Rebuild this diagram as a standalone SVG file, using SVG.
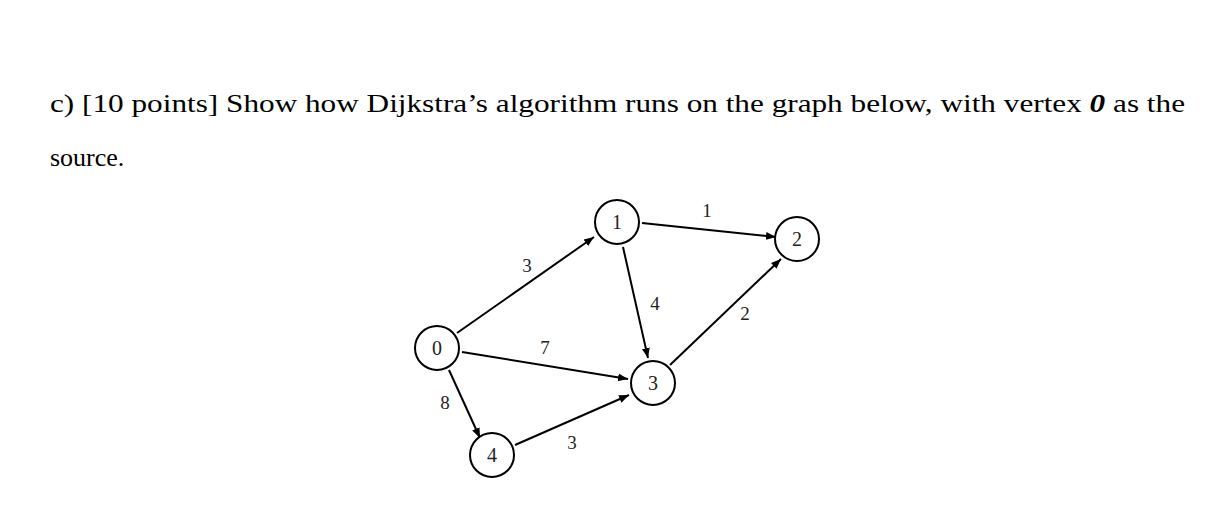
<svg xmlns="http://www.w3.org/2000/svg" width="1216" height="507" viewBox="0 0 1216 507">
<style>
.t{font-family:"Liberation Serif",serif;font-size:26px;fill:#000}
.n circle{fill:#fff;stroke:#000;stroke-width:2}
.n text{font-family:"Liberation Serif",serif;font-size:20px;text-anchor:middle;fill:#222}
.l{font-family:"Liberation Serif",serif;font-size:19px;text-anchor:middle;fill:#222}
.e line{stroke:#000;stroke-width:2;marker-end:url(#a)}
</style>
<defs><marker id="a" viewBox="0 0 10 10" refX="10" refY="5" markerWidth="5" markerHeight="5" orient="auto" markerUnits="strokeWidth"><path d="M0,1 L10,5 L0,9 z" fill="#000"/></marker></defs>
<rect width="1216" height="507" fill="#fff"/>
<text class="t" x="50" y="112" textLength="1135" lengthAdjust="spacingAndGlyphs">c) [10 points] Show how Dijkstra’s algorithm runs on the graph below, with vertex <tspan font-weight="bold" font-style="italic">0</tspan> as the</text>
<text class="t" x="50" y="166">source.</text>
<g id="edges" class="e">
<line x1="457" y1="333" x2="594" y2="237"/>
<line x1="642" y1="223" x2="776" y2="237"/>
<line x1="623" y1="247" x2="648" y2="358"/>
<line x1="670" y1="365" x2="781" y2="259"/>
<line x1="462" y1="352" x2="628" y2="379"/>
<line x1="449" y1="370" x2="480" y2="438"/>
<line x1="515" y1="445" x2="629" y2="395"/>
</g>
<g id="labels">
<text class="l" x="707" y="217">1</text>
<text class="l" x="527" y="272">3</text>
<text class="l" x="655" y="310">4</text>
<text class="l" x="745" y="320">2</text>
<text class="l" x="545" y="354">7</text>
<text class="l" x="445" y="409">8</text>
<text class="l" x="572" y="449">3</text>
</g>
<g id="n0" class="n"><circle cx="437" cy="348" r="22"/><text x="437" y="355">0</text></g>
<g id="n1" class="n"><circle cx="617" cy="222" r="22"/><text x="617" y="229">1</text></g>
<g id="n2" class="n"><circle cx="797" cy="239" r="22"/><text x="797" y="246">2</text></g>
<g id="n3" class="n"><circle cx="653" cy="383" r="22"/><text x="653" y="390">3</text></g>
<g id="n4" class="n"><circle cx="492" cy="455" r="22"/><text x="492" y="462">4</text></g>
</svg>
